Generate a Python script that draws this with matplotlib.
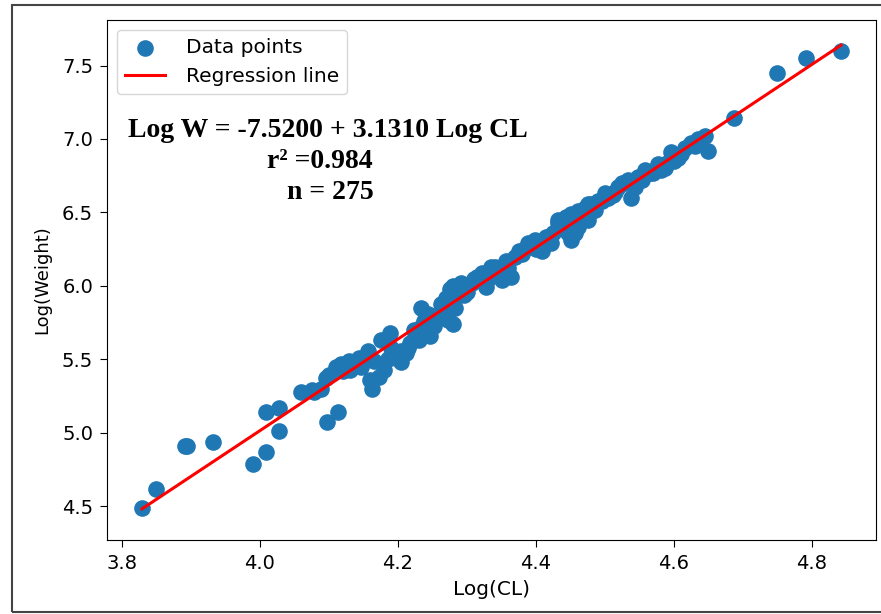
import numpy as np
import matplotlib
matplotlib.use("Agg")
import matplotlib.pyplot as plt
from matplotlib.patches import Rectangle

# Log(CL) and Log(Weight) values
log_cl = [
    3.829, 3.849, 3.891, 3.894, 3.932, 3.990, 4.008, 4.008, 4.027, 4.027,
    4.060, 4.078, 4.097, 4.113, 4.075, 4.089, 4.095, 4.100, 4.110, 4.118,
    4.129, 4.131, 4.143, 4.147, 4.157, 4.165, 4.160, 4.162, 4.172, 4.179,
    4.176, 4.189, 4.197, 4.204, 4.205, 4.212, 4.218, 4.223, 4.230, 4.234,
    4.240, 4.234, 4.247, 4.252, 4.259, 4.263, 4.270, 4.276, 4.280, 4.273,
    4.280, 4.244, 4.283, 4.292, 4.307, 4.292, 4.278, 4.321, 4.341, 4.356,
    4.364, 4.350, 4.327, 4.335, 4.375, 4.385, 4.389, 4.399, 4.414, 4.422,
    4.408, 4.418, 4.432, 4.443, 4.451, 4.461, 4.476, 4.457, 4.451, 4.432,
    4.471, 4.480, 4.447, 4.461, 4.476, 4.451, 4.500, 4.505, 4.519, 4.524,
    4.529, 4.534, 4.538, 4.544, 4.548, 4.558, 4.553, 4.577, 4.581, 4.587,
    4.596, 4.606, 4.616, 4.625, 4.635, 4.645, 4.649, 4.687, 4.749, 4.791,
    4.842, 4.370, 4.395, 4.340, 4.310, 4.300, 4.490, 4.512, 4.565, 4.600,
    4.215, 4.225, 4.238, 4.255, 4.265, 4.285, 4.295, 4.315, 4.330, 4.345,
    4.360, 4.380, 4.400, 4.425, 4.438, 4.465, 4.485, 4.495, 4.515, 4.540,
    4.570, 4.590, 4.610, 4.630, 4.120, 4.140, 4.185, 4.190,
]
log_w = [
    4.49, 4.62, 4.91, 4.91, 4.94, 4.79, 4.87, 5.14, 5.17, 5.01,
    5.28, 5.28, 5.07, 5.14, 5.29, 5.30, 5.37, 5.39, 5.45, 5.47,
    5.49, 5.43, 5.51, 5.45, 5.56, 5.49, 5.36, 5.30, 5.38, 5.43,
    5.63, 5.68, 5.51, 5.56, 5.48, 5.54, 5.61, 5.70, 5.63, 5.72,
    5.80, 5.85, 5.66, 5.73, 5.81, 5.88, 5.92, 5.98, 6.00, 5.77,
    5.74, 5.81, 5.85, 5.99, 6.02, 6.02, 5.97, 6.09, 6.13, 6.17,
    6.06, 6.04, 5.99, 6.13, 6.24, 6.26, 6.29, 6.31, 6.33, 6.29,
    6.24, 6.33, 6.43, 6.47, 6.49, 6.51, 6.56, 6.36, 6.31, 6.45,
    6.53, 6.56, 6.36, 6.40, 6.45, 6.43, 6.63, 6.60, 6.67, 6.70,
    6.70, 6.72, 6.60, 6.67, 6.74, 6.79, 6.72, 6.83, 6.79, 6.80,
    6.91, 6.87, 6.94, 6.97, 7.00, 7.02, 6.92, 7.14, 7.45, 7.55,
    7.60, 6.20, 6.27, 6.09, 6.05, 5.96, 6.58, 6.62, 6.77, 6.85,
    5.58, 5.65, 5.76, 5.78, 5.84, 5.93, 5.94, 6.06, 6.05, 6.10,
    6.12, 6.22, 6.25, 6.36, 6.40, 6.47, 6.52, 6.58, 6.64, 6.69,
    6.77, 6.84, 6.90, 6.95, 5.42, 5.47, 5.50, 5.58,
]

equation = "Log W = -7.5200 + 3.1310 Log CL"
r2_text = "r² =0.984"
n_text = "n = 275"

x = np.array(log_cl)
y = np.array(log_w)
slope, intercept = np.polyfit(x, y, 1)
x_line = np.array([x.min(), x.max()])
y_line = intercept + slope * x_line

fig = plt.figure(figsize=(8.81, 6.14), dpi=100)
ax = fig.add_axes([0.1215, 0.1205, 0.8728, 0.8469])

ax.scatter(x, y, s=120, color="#1f77b4", label="Data points", zorder=2)
ax.plot(x_line, y_line, color="red", lw=2.2, label="Regression line", zorder=3)

ax.set_ylim(4.27, 7.81)
ax.set_xlabel("Log(CL)", fontsize=14.5, labelpad=5)
ax.set_ylabel("Log(Weight)", fontsize=13, labelpad=8)
ax.tick_params(labelsize=14, length=5, pad=5)
ax.set_xticks([3.8, 4.0, 4.2, 4.4, 4.6, 4.8])
ax.set_yticks([4.5, 5.0, 5.5, 6.0, 6.5, 7.0, 7.5])
ax.legend(loc="upper left", fontsize=14.5, handletextpad=1.0)

serif = dict(family="Liberation Serif", weight="bold", fontsize=20,
             ha="center", va="center", transform=ax.transAxes)
ax.text(0.287, 0.788, equation, **serif)
ax.text(0.277, 0.727, r2_text, **serif)
ax.text(0.290, 0.669, n_text, **serif)

# outer border of the original screenshot
fig.patches.append(Rectangle((12 / 881, 2 / 614), 1.0, 607 / 614,
                             transform=fig.transFigure, fill=False,
                             edgecolor="#444444", lw=1.5))

fig.savefig("out.png", dpi=100)
